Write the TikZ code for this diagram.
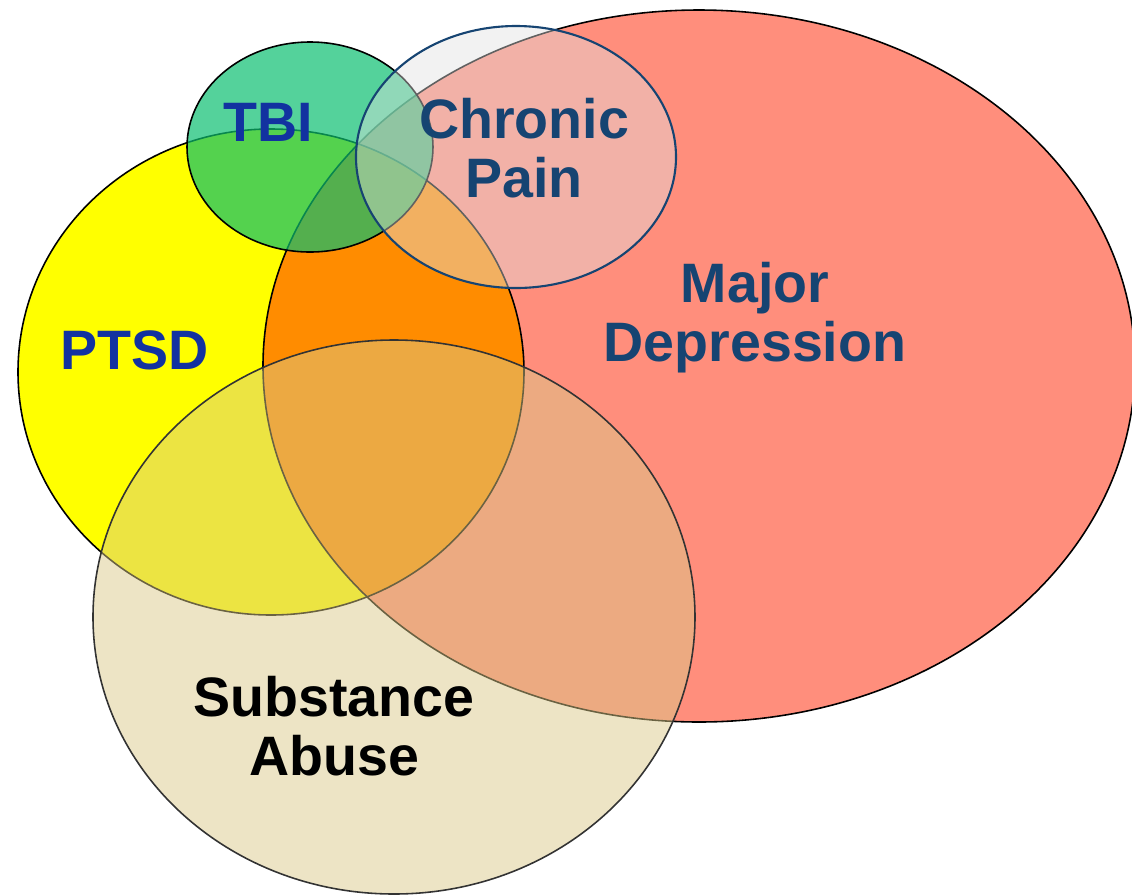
\documentclass[tikz,border=0pt]{standalone}
\usepackage{fontspec}
\setmainfont{Liberation Sans}
\usepackage{tikz}

\definecolor{deprfill}{RGB}{255,142,124}
\definecolor{ptsdfill}{RGB}{255,255,0}
\definecolor{bothfill}{RGB}{255,140,0}
\definecolor{tbifill}{RGB}{12,191,112}
\definecolor{painfill}{RGB}{225,225,225}
\definecolor{abusefill}{RGB}{218,200,136}
\definecolor{labblue}{RGB}{18,50,160}
\definecolor{labnavy}{RGB}{22,68,114}

\begin{document}
\begin{tikzpicture}[x=0.01cm,y=-0.01cm,
  lab/.style={font=\bfseries\fontsize{15.8}{16.8}\selectfont,align=center,inner sep=0pt},
  rim/.style={line width=0.45pt}]
  \useasboundingbox (0,0) rectangle (1132,896);
  % ---------------- depression and PTSD ----------------
  \fill[deprfill] (699,366) ellipse [x radius=436,y radius=356];
  \fill[ptsdfill] (271,372) ellipse [x radius=253,y radius=243];
  \begin{scope}
    \clip (271,372) ellipse [x radius=253,y radius=243];
    \fill[bothfill] (699,366) ellipse [x radius=436,y radius=356];
  \end{scope}
  \draw[rim] (699,366) ellipse [x radius=436,y radius=356];
  \draw[rim] (271,372) ellipse [x radius=253,y radius=243];
  % ---------------- TBI and chronic pain ----------------
  \fill[tbifill,fill opacity=0.7] (310,147) ellipse [x radius=123,y radius=105];
  \draw[rim] (310,147) ellipse [x radius=123,y radius=105];
  \fill[painfill,fill opacity=0.43] (516,157) ellipse [x radius=160,y radius=131];
  \draw[labnavy,line width=0.6pt] (516,157) ellipse [x radius=160,y radius=131];
  % ---------------- substance abuse ----------------
  \fill[abusefill,fill opacity=0.49] (394,617) ellipse [x radius=301,y radius=277];
  \draw[rim,black!80] (394,617) ellipse [x radius=301,y radius=277];
  % ---------------- labels ----------------
  \node[lab,labblue] (tbi) at (268,122) {TBI};
  \node[lab,labnavy] (pain) at (524,148) {Chronic\\Pain};
  \node[lab,labblue] (ptsd) at (135,350) {PTSD};
  \node[lab,labnavy] (depr) at (755,318) {Major\\Depression};
  \node[lab,black] (abuse) at (334,726) {Substance\\Abuse};
\end{tikzpicture}
\end{document}
